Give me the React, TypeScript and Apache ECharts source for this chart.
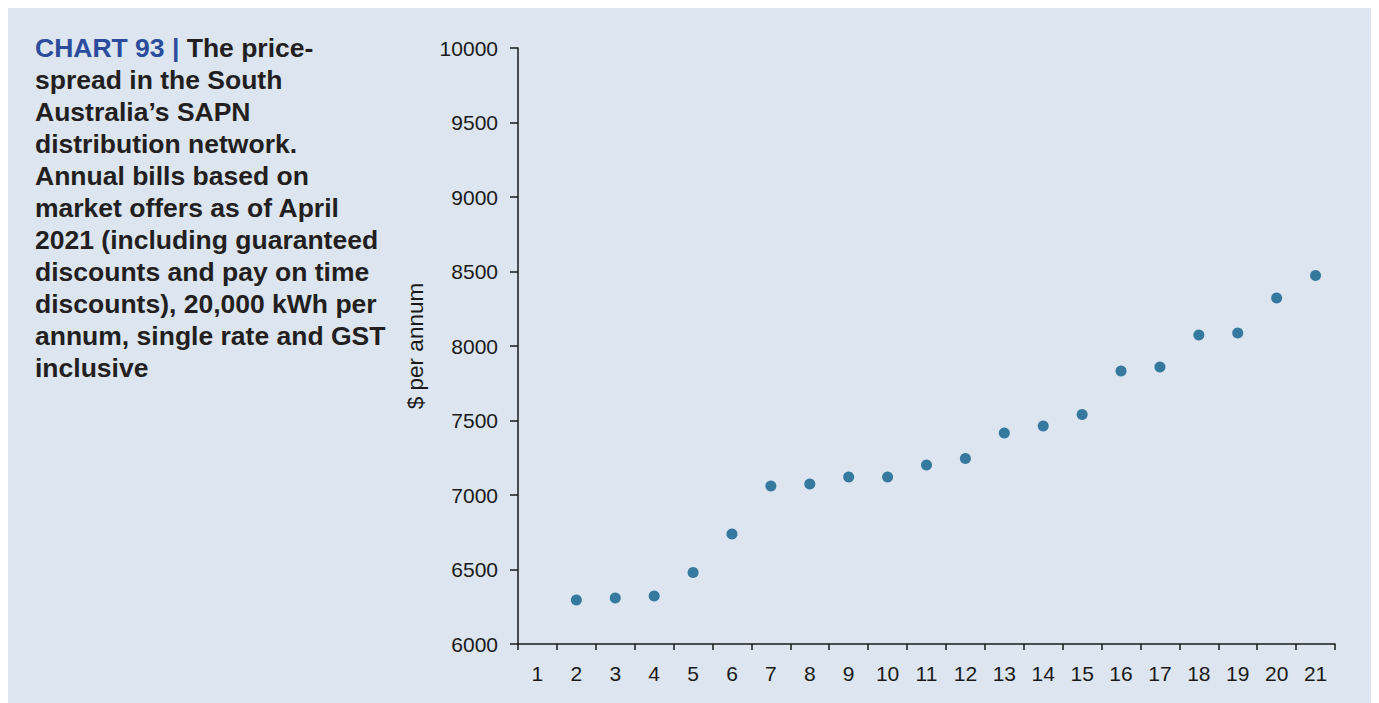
import React, { useEffect, useRef } from "react";
import * as echarts from "echarts";

const categories = ["1","2","3","4","5","6","7","8","9","10","11","12","13","14","15","16","17","18","19","20","21"];
const annualBill: (number | null)[] = [null, 6295, 6309, 6322, 6480, 6738, 7060, 7074, 7121, 7121, 7201, 7245, 7416, 7463, 7540, 7832, 7859, 8074, 8087, 8322, 8473];
const yMin = 6000;
const yMax = 10000;
const yStep = 500;

const titleLines = [
  "{b|CHART 93 |} The price-",
  "spread in the South",
  "Australia\u2019s SAPN",
  "distribution network.",
  "Annual bills based on",
  "market offers as of April",
  "2021 (including guaranteed",
  "discounts and pay on time",
  "discounts), 20,000 kWh per",
  "annum, single rate and GST",
  "inclusive",
];

const FONT = "'Liberation Sans', Arial, Helvetica, sans-serif";

export default function App() {
  const ref = useRef<HTMLDivElement>(null);
  useEffect(() => {
    document.documentElement.style.overflow = "hidden";
    const chart = echarts.init(ref.current!, null, { renderer: "svg" });
    chart.setOption({
      animation: false,
      backgroundColor: "#dce5f0",
      textStyle: { fontFamily: FONT },
      grid: { left: 510, top: 40, right: 42, bottom: 59, containLabel: false },
      graphic: [
        {
          type: "text",
          left: 27,
          top: 24,
          style: {
            text: titleLines.join("\n"),
            font: `bold 26.5px ${FONT}`,
            fill: "#231f20",
            lineHeight: 32,
            rich: {
              b: { fill: "#2b4c9c", fontWeight: "bold", fontSize: 26.5, fontFamily: FONT, lineHeight: 32 },
            },
          },
        },
      ],
      xAxis: {
        type: "category",
        data: categories,
        boundaryGap: true,
        axisLine: { show: true, lineStyle: { color: "#1a1a1a", width: 1.5 } },
        axisTick: { show: true, length: 6, lineStyle: { color: "#1a1a1a", width: 1.5 } },
        axisLabel: { color: "#1a1a1a", fontSize: 21, margin: 19, fontFamily: FONT, interval: 0 },
        splitLine: { show: false },
      },
      yAxis: {
        type: "value",
        min: yMin,
        max: yMax,
        interval: yStep,
        name: "$ per annum",
        nameLocation: "middle",
        nameRotate: 90,
        nameGap: 91,
        nameTextStyle: { color: "#1a1a1a", fontSize: 22.5, fontFamily: FONT },
        axisLine: { show: true, lineStyle: { color: "#1a1a1a", width: 1.5 } },
        axisTick: { show: true, length: 8, lineStyle: { color: "#1a1a1a", width: 1.5 } },
        axisLabel: { color: "#1a1a1a", fontSize: 21, margin: 20, fontFamily: FONT, formatter: (v: number) => String(v) },
        splitLine: { show: false },
      },
      series: [
        {
          type: "scatter",
          data: annualBill,
          symbol: "circle",
          symbolSize: 11,
          itemStyle: { color: "#35799f", opacity: 1 },
        },
      ],
    });
    return () => chart.dispose();
  }, []);
  return <div ref={ref} style={{ width: 1369, height: 695 }} />;
}
